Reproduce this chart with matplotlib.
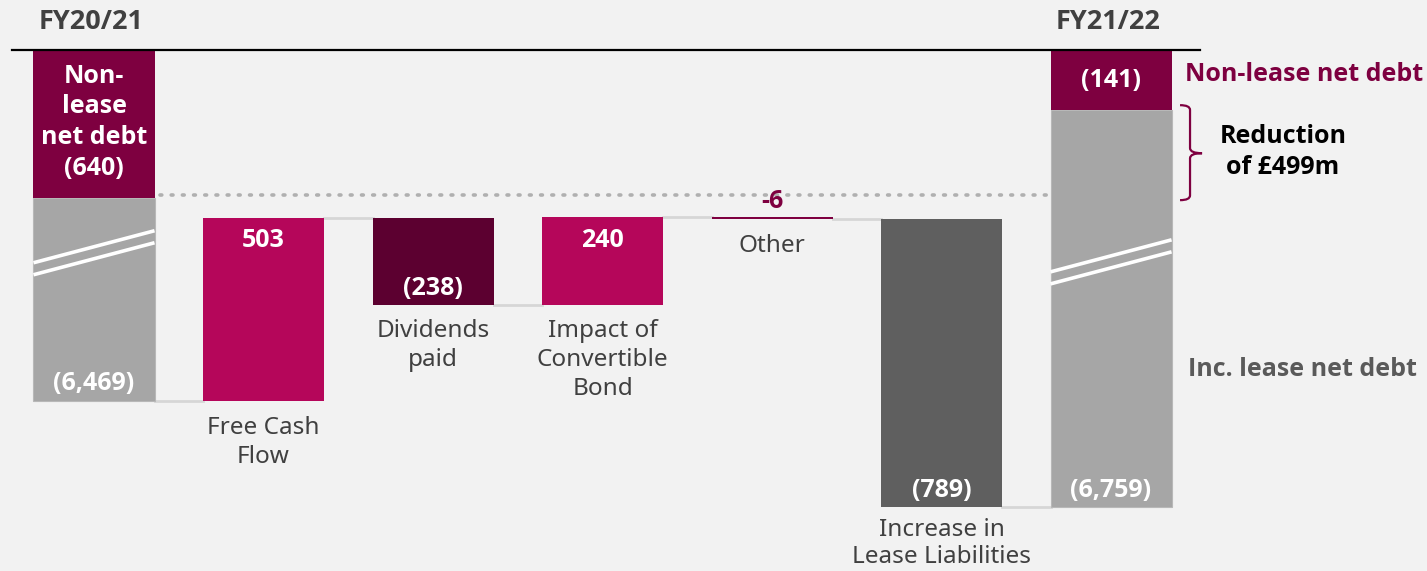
import numpy as np
import matplotlib
matplotlib.use("Agg")
import matplotlib.pyplot as plt
from matplotlib.path import Path
from matplotlib.patches import PathPatch

plt.rcParams['font.family'] = ['Noto Sans', 'DejaVu Sans']
BOLD = ['Open Sans', 'Lato', 'DejaVu Sans']

# data (£m)
periods = ["FY20/21", "FY21/22"]
steps = ["Free Cash\nFlow", "Dividends\npaid", "Impact of\nConvertible\nBond",
         "Other", "Increase in\nLease Liabilities"]
step_values = [503, -238, 240, -6, -789]   # + reduces net debt
step_labels = ["503", "(238)", "240", "-6", "(789)"]
inc_lease_debt = [6469, 6759]
non_lease_debt = [640, 141]

# colours
bg = "#f2f2f2"
maroon = "#7e0040"
pink = "#b5065a"
plum = "#5c0030"
grey = "#a6a6a6"
dark = "#5f5f5f"
txt = "#404040"
step_colors = [pink, plum, pink, maroon, dark]

# layout (schematic heights of the broken total bars, value units)
cap = 964          # common top of the non-lease boxes
open_split = 558   # top of opening grey bar
close_split = 799  # top of closing grey bar
w = 0.714


def btext(x, y, s, **kw):
    kw.setdefault("ha", "center")
    kw.setdefault("va", "center")
    kw.setdefault("fontsize", 18)
    return ax.text(x, y, s, family=BOLD, fontweight="bold", **kw)


fig = plt.figure(figsize=(14.27, 5.71), dpi=100, facecolor=bg)
ax = fig.add_axes([0, 0, 1, 1])
ax.set_facecolor(bg)
ax.set_xlim(-0.5546, 7.864)
ax.set_ylim(-467, 1102)
ax.axis("off")

n = len(steps)
xs = np.arange(n + 2)

# waterfall steps
level = 0
starts = []
for v in step_values:
    starts.append(level)
    level += v
ends = [s + v for s, v in zip(starts, step_values)]
end_level = level  # = -(6759 - 6469)

ax.bar(xs[1:n + 1], step_values, bottom=starts, width=w, color=step_colors,
       edgecolor="none", zorder=3)

# opening / closing stacked bars
ax.bar(xs[0], open_split, bottom=0, width=w, color=grey, edgecolor="#b8b8b8",
       linewidth=0.8, zorder=3)
ax.bar(xs[0], cap - open_split, bottom=open_split, width=w, color=maroon, zorder=3)
ax.bar(xs[-1], close_split - end_level, bottom=end_level, width=w, color=grey,
       edgecolor="#b8b8b8", linewidth=0.8, zorder=3)
ax.bar(xs[-1], cap - close_split, bottom=close_split, width=w, color=maroon, zorder=3)

# break marks
for x, a in [(xs[0], 380), (xs[-1], 355)]:
    for off in (0, -33):
        ax.plot([x - w / 2, x + w / 2], [a + off, a + off + 88], color="white",
                lw=2.6, solid_capstyle="butt", zorder=4)

# connectors
left_tops = [0] + ends
for i, yv in enumerate(left_tops):
    ax.plot([xs[i] + w / 2, xs[i + 1] - w / 2], [yv, yv], color="#d6d6d6",
            lw=2, zorder=2)

# dotted reference line
ax.plot([0.389, 5.628], [566, 566], color="#b0b0b0", lw=2.6,
        linestyle=(0, (0.5, 2.6)), dash_capstyle="round", zorder=2)

# top rule
ax.plot([-0.484, 6.525], [964, 964], color="black", lw=1.6, zorder=5,
        clip_on=False)

# headers
for x, p in zip([xs[0] - 0.02, xs[-1] - 0.02], periods):
    btext(x, 1041, p, fontsize=19.5, color=txt)

# step value labels and category names
for i, (x, s, e, v, lab) in enumerate(zip(xs[1:n + 1], starts, ends,
                                          step_values, step_labels)):
    if abs(v) < 20:
        btext(x, max(s, e) + 42, lab, color=maroon, zorder=6)
    elif v > 0:
        btext(x, e - 63, lab, color="white", zorder=6)
    else:
        btext(x, e + 44, lab, color="white", zorder=6)
    low = min(s, e)
    last = i == n - 1
    ax.text(x, low - (30 if last else 40), steps[i], ha="center", va="top",
            fontsize=17.5, color=txt, linespacing=1.2 if last else 1.28,
            zorder=6)

# totals labels
btext(xs[0], (open_split + cap) / 2 + 5,
      "Non-\nlease\nnet debt\n({})".format(non_lease_debt[0]),
      color="white", linespacing=1.3, zorder=6)
btext(xs[0], 0 + 48, "({:,})".format(inc_lease_debt[0]), color="white", zorder=6)
btext(xs[-1], (close_split + cap) / 2, "({})".format(non_lease_debt[1]),
      color="white", zorder=6)
btext(xs[-1], end_level + 44, "({:,})".format(inc_lease_debt[1]),
      color="white", zorder=6)

# right side annotations
btext(6.437, 896, "Non-lease net debt", ha="left", color=maroon)
btext(7.015, 684, "Reduction\nof £{}m".format(non_lease_debt[0] - non_lease_debt[1]),
      color="black", linespacing=1.3)
btext(6.454, 88, "Inc. lease net debt", ha="left", color="#5a5a5a")

# curly bracket
x0, x1, x2 = 6.407, 6.466, 6.537
top, bot, mid = 813, 552, 681
verts = [(x0, top), (x1, top), (x1, top - 13), (x1, mid + 14),
         (x1, mid), (x2, mid), (x1, mid), (x1, mid - 14),
         (x1, bot + 13), (x1, bot), (x0, bot)]
codes = [Path.MOVETO, Path.CURVE3, Path.CURVE3, Path.LINETO,
         Path.CURVE3, Path.CURVE3, Path.CURVE3, Path.CURVE3,
         Path.LINETO, Path.CURVE3, Path.CURVE3]
ax.add_patch(PathPatch(Path(verts, codes), facecolor="none", edgecolor=maroon,
                       lw=1.6, zorder=5))

fig.savefig("out.png", dpi=100, facecolor=bg)
